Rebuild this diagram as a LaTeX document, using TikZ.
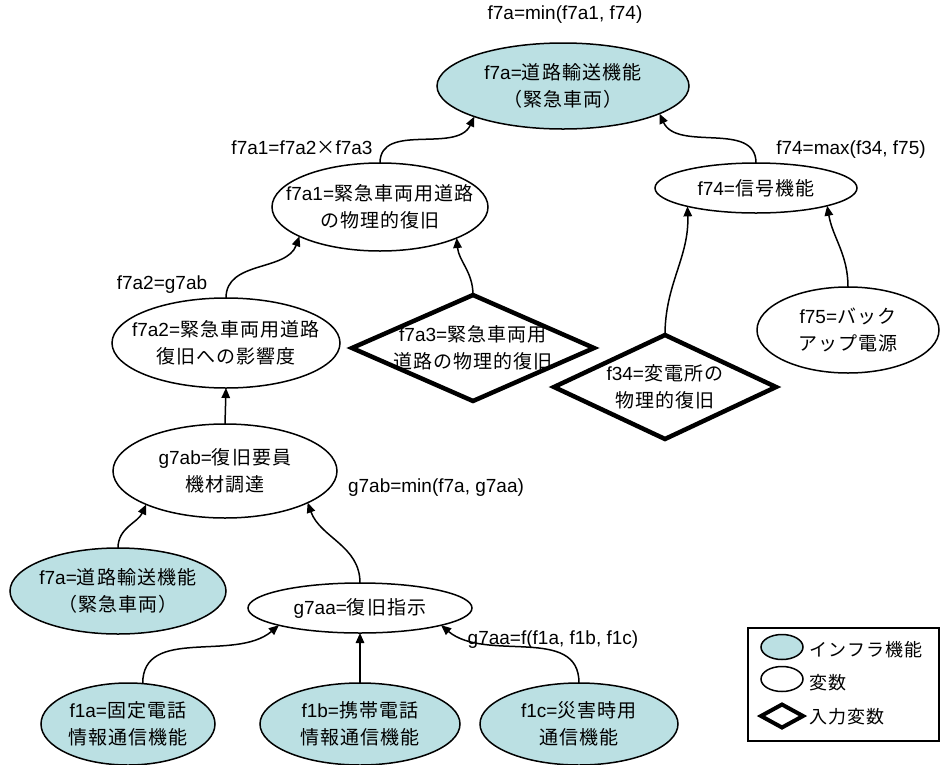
\documentclass[tikz,border=0pt]{standalone}
\usepackage{fontspec}
\setmainfont{Liberation Sans}
\newfontfamily\jp[LetterSpace=6]{Noto Sans CJK JP}
\usetikzlibrary{shapes.geometric,arrows.meta}
\definecolor{infra}{RGB}{187,224,227}
\begin{document}
\begin{tikzpicture}[x=1pt,y=1pt,
  every node/.style={font=\fontsize{19}{27}\selectfont},
  base/.style={draw, line width=1.5pt, inner sep=-40pt, outer sep=0pt, align=center},
  ell/.style={base, ellipse, fill=white},
  infraell/.style={base, ellipse, fill=infra},
  inp/.style={base, diamond, line width=4.5pt, miter limit=10},
  con/.style={line width=1.5pt, -{Triangle[length=10pt,width=8.5pt]}},
  legtext/.style={anchor=west, font=\fontsize{18}{22}\selectfont\jp}
]
\useasboundingbox (0,0) rectangle (940,-764);

% nodes
\node[infraell, minimum width=252, minimum height=86] (top) at (563,-86)
  {f7a={\jp 道路輸送機能}\\{\jp （緊急車両）}};
\node[ell, minimum width=216, minimum height=88] (f7a1) at (380,-207)
  {f7a1={\jp 緊急車両用道路}\\{\jp の物理的復旧}};
\node[ell, minimum width=202, minimum height=50] (f74) at (756,-188)
  {f74={\jp 信号機能}};
\node[ell, minimum width=228, minimum height=90] (f7a2) at (226,-343)
  {f7a2={\jp 緊急車両用道路}\\{\jp 復旧への影響度}};
\node[inp, minimum width=242, minimum height=106] (f7a3) at (473,-348)
  {f7a3={\jp 緊急車両用}\\{\jp 道路の物理的復旧}};
\node[inp, minimum width=222, minimum height=104] (f34) at (665,-387)
  {f34={\jp 変電所の}\\{\jp 物理的復旧}};
\node[ell, minimum width=182, minimum height=86] (f75) at (848,-330)
  {f75={\jp バック}\\{\jp アップ電源}};
\node[ell, minimum width=224, minimum height=94] (g7ab) at (225,-471)
  {g7ab={\jp 復旧要員}\\{\jp 機材調達}};
\node[infraell, minimum width=216, minimum height=86] (fsev) at (118,-591)
  {f7a={\jp 道路輸送機能}\\{\jp （緊急車両）}};
\node[ell, minimum width=224, minimum height=50] (g7aa) at (360,-608)
  {g7aa={\jp 復旧指示}};
\node[infraell, minimum width=174, minimum height=82] (f1a) at (128,-724)
  {f1a={\jp 固定電話}\\{\jp 情報通信機能}};
\node[infraell, minimum width=200, minimum height=82] (f1b) at (360,-724)
  {f1b={\jp 携帯電話}\\{\jp 情報通信機能}};
\node[infraell, minimum width=198, minimum height=82] (f1c) at (579,-724)
  {f1c={\jp 災害時用}\\{\jp 通信機能}};

% formula labels
\node (Ltop) at (565,-15) {f7a=min(f7a1, f74)};
\node (Lf7a1) at (302,-148) {f7a1=f7a2{\jp ×}f7a3};
\node (Lf74) at (851,-150) {f74=max(f34, f75)};
\node (Lf7a2) at (162,-285) {f7a2=g7ab};
\node (Lg7ab) at (436,-488) {g7ab=min(f7a, g7aa)};
\node (Lg7aa) at (553,-640) {g7aa=f(f1a, f1b, f1c)};

% connectors
\draw[con] (f7a1.north) to[out=90,in=-115] (top.-161);
\draw[con] (f74.north) to[out=90,in=-65] (top.-16);
\draw[con] (f7a2.north) to[out=90,in=-110] (f7a1.-160);
\draw[con] (f7a3.north) to[out=90,in=-85] (f7a1.-22);
\draw[con] (f34.north) to[out=90,in=-88] (f74.-165);
\draw[con] (f75.north) to[out=90,in=-80] (f74.-14);
\draw[con] (g7ab.north) -- (f7a2.south);
\draw[con] (fsev.north) to[out=90,in=-115] (g7ab.-157);
\draw[con] (g7aa.north) to[out=90,in=-70] (g7ab.-21);
\draw[con] (f1a.70) to[out=90,in=-140] (g7aa.-168);
\draw[con] (f1b.north) -- (g7aa.south);
\draw[con] (f1c.north) to[out=90,in=-40] (g7aa.-12);

% legend
\node[draw, line width=1.5pt, minimum width=191, minimum height=113, inner sep=0pt, anchor=north west] (legbox) at (747,-627) {};
\node[infraell, minimum width=42, minimum height=25] (lg1) at (782,-647) {};
\node[ell, minimum width=42, minimum height=25] (lg2) at (782,-679) {};
\node[inp, line width=4pt, minimum width=42, minimum height=23] (lg3) at (782,-716) {};
\node[legtext] (lt1) at (806,-650) {インフラ機能};
\node[legtext] (lt2) at (806,-683) {変数};
\node[legtext] (lt3) at (806,-717) {入力変数};
\end{tikzpicture}
\end{document}
